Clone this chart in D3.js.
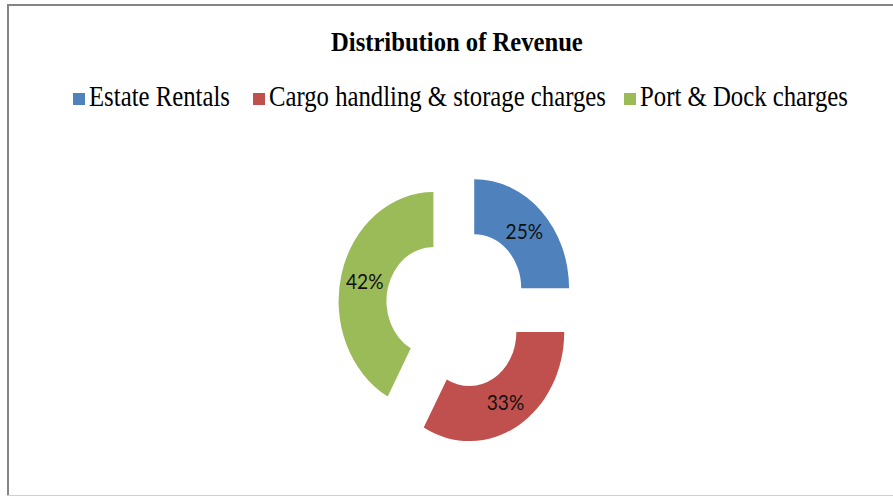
<!DOCTYPE html>
<html>
<head>
<meta charset="utf-8">
<script src="https://cdn.jsdelivr.net/npm/d3@7"></script>
<style>
  body { margin: 0; background: #fff; }
  .title { font-family: "Liberation Serif", "Times New Roman", serif; font-weight: bold; font-size: 28px; }
  .legend-label { font-family: "Liberation Serif", "Times New Roman", serif; font-size: 30px; fill: #000; }
  .slice-label { font-family: Lato, "Open Sans", sans-serif; font-size: 22px; fill: #111; }
</style>
</head>
<body>
<svg class="chart"></svg>
<script>
// data
const categories = ["Estate Rentals", "Cargo handling & storage charges", "Port & Dock charges"]
const shares = [25, 33, 42]
const colors = ["#4f81bd", "#c0504d", "#9bbb59"]

const width = 893, height = 497

const svg = d3.select(".chart")
    .attr("width", width)
    .attr("height", height)

// frame (top/left darker, bottom light)
svg.append("line").attr("x1", 7).attr("x2", width).attr("y1", 5).attr("y2", 5)
    .attr("stroke", "#858585").attr("stroke-width", 2)
svg.append("line").attr("x1", 8).attr("x2", 8).attr("y1", 4).attr("y2", 496)
    .attr("stroke", "#858585").attr("stroke-width", 2)
svg.append("line").attr("x1", 7).attr("x2", width).attr("y1", 495.5).attr("y2", 495.5)
    .attr("stroke", "#cfcfcf").attr("stroke-width", 1)

// squeeze a text horizontally so it spans the given width
function fitText(sel, x, y, w) {
    const natural = sel.node().getComputedTextLength()
    sel.attr("transform", `translate(${x},${y}) scale(${w / natural},1)`)
}

const title = svg.append("text")
    .attr("class", "title")
    .text("Distribution of Revenue")
fitText(title, 331, 51, 252)

// legend, laid out like the picture
const legendX = [73, 253, 624]
const legendW = [141, 337, 208]
const legend = svg.append("g").attr("class", "legend")
categories.forEach((c, i) => {
    legend.append("rect")
        .attr("x", legendX[i]).attr("y", 93)
        .attr("width", 12).attr("height", 12)
        .attr("fill", colors[i])
    const t = legend.append("text")
        .attr("class", "legend-label")
        .text(c)
    fitText(t, legendX[i] + 16, 106, legendW[i])
})

// exploded doughnut (picture is squeezed horizontally)
const outerR = 109, innerR = 54, explode = 28, squeeze = 0.87
const pie = d3.pie().sort(null).value(d => d)
const arc = d3.arc().innerRadius(innerR).outerRadius(outerR)

const donut = svg.append("g")
    .attr("transform", `translate(457,308) scale(${squeeze},1)`)

const slices = donut.selectAll("g.slice")
    .data(pie(shares))
    .join("g")
    .attr("class", "slice")
    .attr("transform", d => {
        const a = (d.startAngle + d.endAngle) / 2
        return `translate(${Math.sin(a) * explode},${-Math.cos(a) * explode})`
    })

slices.append("path")
    .attr("d", arc)
    .attr("fill", (d, i) => colors[i])

slices.append("text")
    .attr("class", "slice-label")
    .attr("transform", d => `translate(${arc.centroid(d)})`)
    .attr("text-anchor", "middle")
    .attr("dy", "0.36em")
    .text(d => d.data + "%")
</script>
</body>
</html>
